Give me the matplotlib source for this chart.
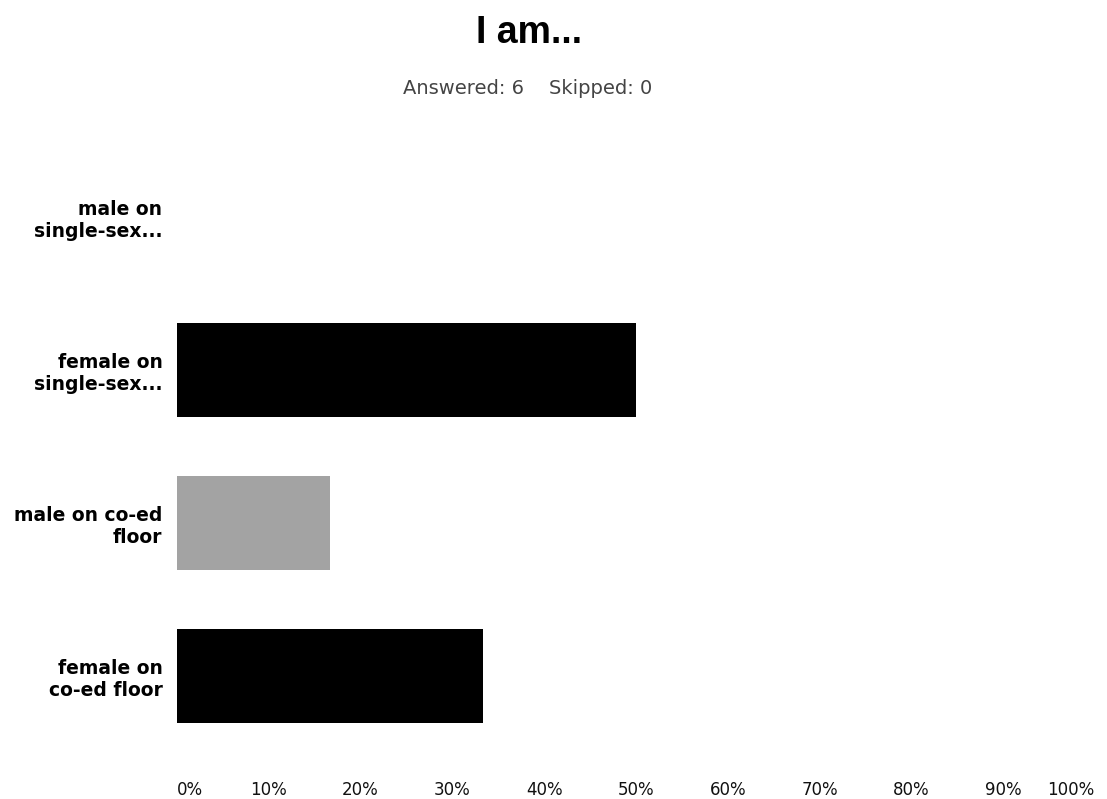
import matplotlib
matplotlib.use("Agg")
import matplotlib.pyplot as plt

# Survey answers: "I am..."
categories = [
    "male on\nsingle-sex...",
    "female on\nsingle-sex...",
    "male on co-ed\nfloor",
    "female on\nco-ed floor",
]
percent = [0.0, 50.0, 16.67, 33.33]
bar_colors = ["#000000", "#000000", "#a3a3a3", "#000000"]
tick_values = [0, 10, 20, 30, 40, 50, 60, 70, 80, 90, 100]
tick_labels = [f"{v}%" for v in tick_values]
title = "I am..."
subtitle = "Answered: 6    Skipped: 0"

fig = plt.figure(figsize=(11.07, 7.99), dpi=100)
fig.patch.set_facecolor("white")

ax = fig.add_axes([0.1599, 0.0588, 0.989 - 0.1599, 0.8235 - 0.0588])
ypos = list(range(len(categories)))
ax.barh(ypos, percent, height=0.616, color=bar_colors, edgecolor="none")

ax.set_xlim(0, 100)
ax.set_ylim(len(categories) - 0.5, -0.5)

ax.set_yticks(ypos)
ax.set_yticklabels(categories, fontsize=13.5, fontweight="bold",
                   family="DejaVu Sans", linespacing=1.2)
ax.tick_params(axis="y", length=0, pad=10.5)

ax.set_xticks(tick_values)
ax.set_xticklabels(tick_labels, fontsize=12, family="DejaVu Sans", color="#111111")
ax.tick_params(axis="x", length=0, pad=21)
xt = ax.get_xticklabels()
xt[0].set_horizontalalignment("left")
xt[-1].set_horizontalalignment("right")

for s in ax.spines.values():
    s.set_visible(False)
ax.grid(False)

fig.text(0.478, 1 - 43 / 799, title, ha="center", va="baseline",
         fontsize=27, fontweight="bold", family="Liberation Sans", color="#000000")
fig.text(0.477, 1 - 94 / 799, subtitle, ha="center", va="baseline",
         fontsize=14, family="DejaVu Sans", color="#444444")

fig.savefig("out.png", dpi=100, facecolor="white")
